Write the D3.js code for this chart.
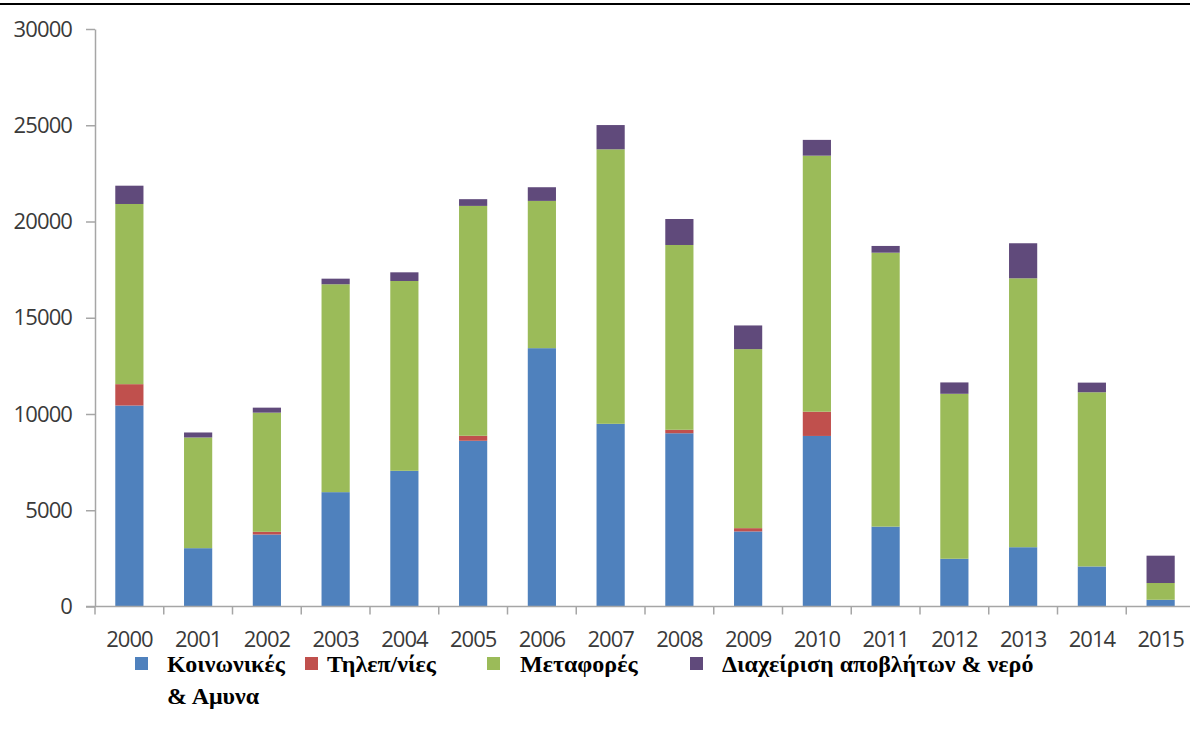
<!DOCTYPE html>
<html>
<head>
<meta charset="utf-8">
<script src="https://cdn.jsdelivr.net/npm/d3@7"></script>
<style>
  body { margin: 0; background: #fff; }
  svg { display: block; }
</style>
</head>
<body>
<div id="chart"></div>
<script>
// values
const years = ["2000","2001","2002","2003","2004","2005","2006","2007","2008","2009","2010","2011","2012","2013","2014","2015"];
const social    = [10440, 3030, 3740, 5940, 7050, 8610, 13420, 9490, 9000, 3900, 8860, 4150, 2480, 3080, 2080, 350];
const telecom   = [1110, 0, 140, 0, 0, 260, 0, 0, 180, 170, 1260, 0, 0, 0, 0, 0];
const transport = [9360, 5750, 6190, 10800, 9860, 11940, 7650, 14260, 9600, 9300, 13300, 14230, 8570, 13970, 9050, 870];
const waste     = [950, 260, 260, 290, 450, 350, 710, 1260, 1350, 1230, 820, 350, 590, 1820, 500, 1420];
const seriesNames = ["Κοινωνικές\n& Αμυνα", "Τηλεπ/νίες", "Μεταφορές", "Διαχείριση αποβλήτων & νερό"];
const colors = ["#4f81bd", "#c0504d", "#9bbb59", "#604a7b"];
const yTicks = [0, 5000, 10000, 15000, 20000, 25000, 30000];

const width = 1190, height = 733;
const margin = {top: 29, left: 95, bottom: 127};

const svg = d3.select("#chart")
  .append("svg")
  .attr("width", width)
  .attr("height", height);

// rule across the top
svg.append("line")
  .attr("x1", 0).attr("x2", width)
  .attr("y1", 4).attr("y2", 4)
  .attr("stroke", "#000").attr("stroke-width", 2);

const rows = years.map((y, i) => ({year: y, s0: social[i], s1: telecom[i], s2: transport[i], s3: waste[i]}));
const stack = d3.stack().keys(["s0", "s1", "s2", "s3"])(rows);

const xScale = d3.scaleBand()
  .domain(years)
  .range([margin.left, 1195])
  .paddingInner(0.59)
  .paddingOuter(0.295);

const yScale = d3.scaleLinear()
  .domain([0, 30000])
  .range([height - margin.bottom + 0.5, margin.top]);

// bars
svg.append("g")
  .selectAll("g")
  .data(stack)
  .join("g")
  .attr("fill", (d, i) => colors[i])
  .selectAll("rect")
  .data(d => d)
  .join("rect")
  .attr("x", d => xScale(d.data.year))
  .attr("width", xScale.bandwidth())
  .attr("y", d => yScale(d[1]))
  .attr("height", d => yScale(d[0]) - yScale(d[1]));

const axisColor = "#a6a6a6";
const textColor = "#3a3a3a";

// y axis
const yAxis = svg.append("g")
  .attr("transform", `translate(${margin.left},0)`)
  .call(d3.axisLeft(yScale).tickValues(yTicks).tickFormat(d3.format("d"))
    .tickSize(9).tickSizeOuter(0).tickPadding(14));
yAxis.select(".domain").attr("stroke", axisColor).attr("stroke-width", 1.5);
yAxis.selectAll(".tick line").attr("stroke", axisColor).attr("stroke-width", 1.5);
yAxis.selectAll("text")
  .attr("fill", textColor)
  .attr("font-family", "'Open Sans', sans-serif")
  .attr("font-size", "22px")
  .attr("letter-spacing", "-0.9px");

// x axis
const y0 = yScale(0);
const xAxis = svg.append("g")
  .attr("transform", `translate(0,${y0})`)
  .call(d3.axisBottom(xScale).tickSize(0).tickSizeOuter(0).tickPadding(25));
xAxis.select(".domain").remove();
xAxis.append("line")
  .attr("x1", margin.left - 9).attr("x2", width)
  .attr("stroke", axisColor).attr("stroke-width", 1.5);
xAxis.selectAll(".boundary")
  .data(d3.range(years.length + 1))
  .join("line")
  .attr("class", "boundary")
  .attr("x1", i => margin.left + i * xScale.step())
  .attr("x2", i => margin.left + i * xScale.step())
  .attr("y1", 0).attr("y2", 8)
  .attr("stroke", axisColor).attr("stroke-width", 1.5);
xAxis.selectAll("text")
  .attr("fill", textColor)
  .attr("font-family", "'Open Sans', sans-serif")
  .attr("font-size", "22px")
  .attr("letter-spacing", "-1px");

// legend
const legendX = [135, 305, 487, 690];
const textOffset = [32, 22, 33, 32];
const legend = svg.append("g")
  .selectAll("g")
  .data(seriesNames)
  .join("g")
  .attr("transform", (d, i) => `translate(${legendX[i]},657)`);
legend.append("rect")
  .attr("width", 13).attr("height", 13)
  .attr("fill", (d, i) => colors[i]);
legend.append("text")
  .attr("x", (d, i) => textOffset[i])
  .attr("y", 15)
  .attr("font-family", "'Liberation Serif', 'Times New Roman', serif")
  .attr("font-weight", "bold")
  .attr("font-size", "24px")
  .attr("fill", "#000")
  .selectAll("tspan")
  .data(d => d.split("\n"))
  .join("tspan")
  .attr("x", function() { return this.parentNode.getAttribute("x"); })
  .attr("dy", (d, i) => i === 0 ? 0 : 32)
  .text(d => d);
</script>
</body>
</html>
